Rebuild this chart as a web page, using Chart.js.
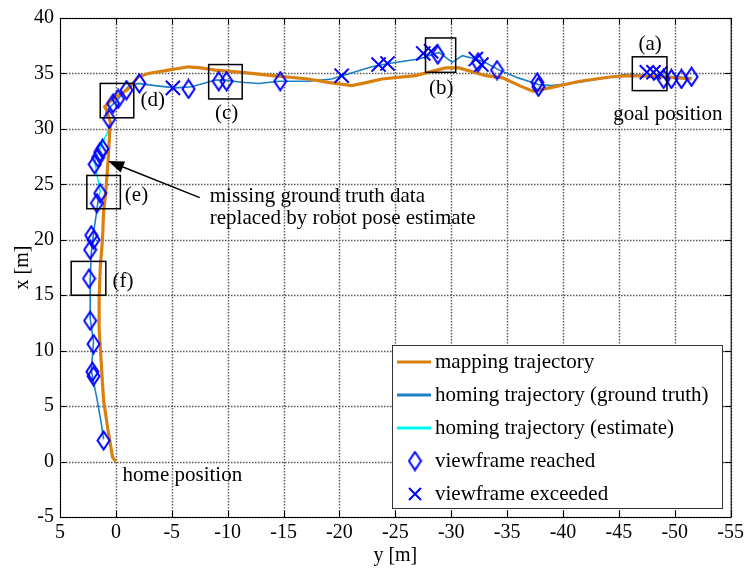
<!DOCTYPE html>
<html>
<head>
<meta charset="utf-8">
<script src="https://cdn.jsdelivr.net/npm/chart.js@4.4.0/dist/chart.umd.min.js"></script>
<style>
html,body{margin:0;padding:0;background:#fff;}
</style>
</head>
<body>
<canvas id="chart" width="748" height="575"></canvas>
<script>
// horizontal axis = y [m] (reversed), vertical axis = x [m]
const xTicks = [5, 0, -5, -10, -15, -20, -25, -30, -35, -40, -45, -50, -55];
const yTicks = [-5, 0, 5, 10, 15, 20, 25, 30, 35, 40];

// [y, x] pairs
const mappingPath = [
  [0,0],[0.3,0.4],[0.7,2.8],[1.1,5.5],[1.3,8.7],[1.5,12],[1.5,14.6],[1.4,17.5],[1.2,20],
  [1.1,22.5],[0.9,24.4],[0.7,27.1],[0.6,28.9],[0.5,30.6],[0.8,31.6],[1.0,32.0],[0.4,32.6],
  [-1.1,33.6],[-2.0,34.7],[-2.9,35.0],[-4.7,35.3],[-6.5,35.6],[-7.6,35.5],[-8.9,35.3],
  [-11.3,35.1],[-14,34.8],[-17.2,34.5],[-19,34.2],[-21.1,33.9],[-22.5,34.2],[-23.8,34.5],
  [-26.8,34.8],[-29.5,35.5],[-30.7,35.5],[-33.1,34.8],[-34.6,34.6],[-36.1,33.9],[-37.3,33.4],
  [-38.8,33.7],[-41.5,34.3],[-44.4,34.7],[-45.9,34.8],[-48.8,34.7],[-51.5,34.5]
];
const homingTruthA = [
  [-51.5,34.6],[-48,34.8],[-45.5,34.9],[-44.4,34.7],[-41.5,34.2],[-39,33.9],[-37.8,34.0],
  [-36,34.6],[-34.3,35.3],[-33,36.0],[-32.2,36.3],[-31.0,36.6],[-30.1,36.0],[-28.9,36.9],
  [-27.1,36.3],[-24.4,35.9],[-22.9,35.6],[-19.3,34.5],[-17.2,34.3],[-14.6,34.3],[-12.8,34.1],
  [-11.2,34.2],[-9.8,34.4],[-8.9,34.4],[-6.8,33.8],[-5.3,33.7],[-3.5,33.9],[-2.0,34.1],
  [-1.1,33.8],[-0.2,32.7],[0.7,31.8],[0.9,31.4],[0.5,30.7],[0.7,29.8]
];
const homingEstimate = [
  [0.7,29.8],[1.4,28.3],[1.9,27.1],[1.7,25.9],[1.4,24.4],[1.6,23.5]
];
const homingTruthB = [
  [1.6,23.5],[1.7,22.7],[2.0,20.6],[2.2,18.8],[2.3,16.4],[2.3,14.9],[2.3,12.9],[2.0,10.8],
  [2.2,8.2],[1.7,5.7],[1.3,3.4],[1.1,2.0]
];
const reachedPts = [
  [1.1,1.9],[2.1,8.1],[2.0,7.7],[2.0,10.6],[2.3,12.7],[2.4,16.5],[2.3,19.1],[2.0,20.0],[2.2,20.4],
  [1.4,24.2],[1.7,23.3],[1.9,26.8],[1.6,27.4],[1.4,27.9],[1.2,28.2],[0.6,30.9],
  [0.25,32.3],[-0.2,32.7],[-0.95,33.5],[-2.1,34.1],[-6.5,33.6],[-9.2,34.3],[-9.9,34.3],
  [-14.7,34.3],[-28.8,36.7],[-32.4,36.0],[-34.1,35.3],[-37.7,34.2],[-37.8,33.8],
  [-49.0,34.5],[-49.7,34.5],[-50.6,34.5],[-51.5,34.7]
];
const exceededPts = [
  [-5.1,33.7],[-20.2,34.8],[-23.5,35.8],[-24.3,35.9],[-27.5,36.8],[-28.2,37.0],
  [-32.2,36.3],[-32.7,35.8],[-47.5,35.1],[-48.1,35.1],[-48.7,35.0]
];
// annotation boxes: label, y1, y2, x1, x2
const boxes = [
  ['(a)', -46.2, -49.3, 36.5, 33.45],
  ['(b)', -27.7, -30.4, 38.2, 35.1],
  ['(c)', -8.3, -11.3, 35.8, 32.7],
  ['(d)', 1.4, -1.6, 34.1, 31.0],
  ['(e)', 2.6, -0.4, 25.8, 22.8],
  ['(f)', 4.0, 0.9, 18.05, 15.0]
];
const legendLabels = ['mapping trajectory', 'homing trajectory (ground truth)',
  'homing trajectory (estimate)', 'viewframe reached', 'viewframe exceeded'];

const ORANGE = '#d9800f';
const BLUE = '#1a80c8';
const CYAN = '#00f5f5';
const MARK = '#0000ff';
const FONT = '"Liberation Serif", "Times New Roman", serif';
const FS = 21;   // annotation / legend text
const TFS = 20;  // tick + axis titles

const toPts = (arr) => arr.map(p => ({x: p[0], y: p[1]}));

// tall diamond marker
function makeDiamond(){
  const c = document.createElement('canvas');
  c.width = 15; c.height = 21;
  const g = c.getContext('2d');
  g.strokeStyle = MARK; g.lineWidth = 2;
  g.beginPath();
  g.moveTo(7.5,1.5); g.lineTo(13.5,10.5); g.lineTo(7.5,19.5); g.lineTo(1.5,10.5); g.closePath();
  g.stroke();
  return c;
}
const diamond = makeDiamond();

function drawGrid(chart){
  const ctx = chart.ctx, a = chart.chartArea, xs = chart.scales.x, ys = chart.scales.y;
  ctx.save();
  ctx.strokeStyle = '#555'; ctx.lineWidth = 1.4;
  ctx.setLineDash([1.5, 1.5]);
  ctx.beginPath();
  xTicks.forEach(v => {
    const x = Math.round(xs.getPixelForValue(v)) + 0.5;
    ctx.moveTo(x, a.top); ctx.lineTo(x, a.bottom);
  });
  yTicks.forEach(v => {
    const y = Math.round(ys.getPixelForValue(v)) + 0.5;
    ctx.moveTo(a.left, y); ctx.lineTo(a.right, y);
  });
  ctx.stroke();
  ctx.restore();
}

const overlay = {
  id: 'overlay',
  beforeDatasetsDraw(chart){
    drawGrid(chart);
  },
  afterDatasetsDraw(chart){
    const ctx = chart.ctx, xs = chart.scales.x, ys = chart.scales.y;
    const px = v => xs.getPixelForValue(v), py = v => ys.getPixelForValue(v);
    ctx.save();
    ctx.strokeStyle = '#000'; ctx.lineWidth = 1.5;
    ctx.fillStyle = '#000';
    ctx.font = FS + 'px ' + FONT;
    ctx.textBaseline = 'middle';
    boxes.forEach(b => {
      const l = px(b[1]), r = px(b[2]), t = py(b[3]), bt = py(b[4]);
      ctx.strokeRect(l, t, r - l, bt - t);
    });
    const lab = (t, yv, xv, align) => { ctx.textAlign = align; ctx.fillText(t, px(yv), py(xv)); };
    lab('(a)', -47.8, 37.6, 'center');
    lab('(b)', -29.1, 33.6, 'center');
    lab('(c)', -9.9, 31.4, 'center');
    lab('(d)', -2.2, 32.6, 'left');
    lab('(e)', -0.8, 24.0, 'left');
    lab('(f)', 0.3, 16.2, 'left');
    lab('goal position', -44.5, 31.3, 'left');
    lab('home position', -0.6, -1.3, 'left');
    lab('missing ground truth data', -8.4, 23.9, 'left');
    lab('replaced by robot pose estimate', -8.4, 21.9, 'left');
    // arrow
    const x0 = px(-7.5), y0 = py(23.8), x1 = px(0.7), y1 = py(27.1);
    const ang = Math.atan2(y1 - y0, x1 - x0);
    ctx.lineWidth = 1.5;
    ctx.beginPath(); ctx.moveTo(x0, y0);
    ctx.lineTo(x1 - 12 * Math.cos(ang), y1 - 12 * Math.sin(ang)); ctx.stroke();
    ctx.beginPath();
    ctx.moveTo(x1, y1);
    ctx.lineTo(x1 - 16 * Math.cos(ang) + 6 * Math.sin(ang), y1 - 16 * Math.sin(ang) - 6 * Math.cos(ang));
    ctx.lineTo(x1 - 16 * Math.cos(ang) - 6 * Math.sin(ang), y1 - 16 * Math.sin(ang) + 6 * Math.cos(ang));
    ctx.closePath(); ctx.fill();
    ctx.restore();
  },
  afterDraw(chart){
    const ctx = chart.ctx, a = chart.chartArea, xs = chart.scales.x, ys = chart.scales.y;
    ctx.save();
    // frame + inward ticks
    ctx.strokeStyle = '#000'; ctx.lineWidth = 1;
    ctx.strokeRect(a.left + 0.5, a.top + 0.5, a.right - a.left, a.bottom - a.top);
    ctx.beginPath();
    xTicks.forEach(v => {
      const x = Math.round(xs.getPixelForValue(v)) + 0.5;
      ctx.moveTo(x, a.bottom); ctx.lineTo(x, a.bottom - 6);
      ctx.moveTo(x, a.top); ctx.lineTo(x, a.top + 6);
    });
    yTicks.forEach(v => {
      const y = Math.round(ys.getPixelForValue(v)) + 0.5;
      ctx.moveTo(a.left, y); ctx.lineTo(a.left + 6, y);
      ctx.moveTo(a.right, y); ctx.lineTo(a.right - 6, y);
    });
    ctx.stroke();
    // legend
    const L = 392.5, T = 345.5, W = 330, H = 163;
    ctx.fillStyle = '#fff';
    ctx.fillRect(L, T, W, H);
    ctx.strokeStyle = '#333'; ctx.lineWidth = 1;
    ctx.strokeRect(L, T, W, H);
    const rows = [362, 395, 428, 461, 494];
    const lineCols = [ORANGE, BLUE, CYAN];
    ctx.font = FS + 'px ' + FONT;
    ctx.textBaseline = 'middle'; ctx.textAlign = 'left';
    rows.forEach((ry, i) => {
      if (i < 3) {
        ctx.strokeStyle = lineCols[i]; ctx.lineWidth = 3;
        ctx.beginPath(); ctx.moveTo(397, ry); ctx.lineTo(431, ry); ctx.stroke();
      } else if (i === 3) {
        ctx.drawImage(diamond, 415 - 7.5, ry - 10.5);
      } else {
        ctx.strokeStyle = MARK; ctx.lineWidth = 2;
        ctx.beginPath();
        ctx.moveTo(409, ry - 6); ctx.lineTo(421, ry + 6);
        ctx.moveTo(421, ry - 6); ctx.lineTo(409, ry + 6);
        ctx.stroke();
      }
      ctx.fillStyle = '#000';
      ctx.fillText(legendLabels[i], 435, ry);
    });
    ctx.restore();
  }
};

const lineSet = (data, color, width) => ({
  data: toPts(data), showLine: true, borderColor: color, backgroundColor: color,
  borderWidth: width, pointRadius: 0, tension: 0
});

new Chart(document.getElementById('chart'), {
  type: 'scatter',
  data: {
    datasets: [
      { data: toPts(reachedPts), pointStyle: diamond, pointRadius: 8 },
      { data: toPts(exceededPts), pointStyle: 'crossRot', pointRadius: 10,
        borderColor: MARK, borderWidth: 2 },
      lineSet(mappingPath, ORANGE, 3.2),
      lineSet(homingTruthA, BLUE, 1.6),
      lineSet(homingTruthB, BLUE, 1.6),
      lineSet(homingEstimate, CYAN, 1.6)
    ]
  },
  options: {
    responsive: false,
    animation: false,
    events: [],
    layout: { padding: { top: 13, right: 16, left: 0, bottom: 0 } },
    plugins: { legend: { display: false }, tooltip: { enabled: false } },
    scales: {
      x: {
        type: 'linear', min: -55, max: 5, reverse: true,
        afterFit: s => { s.height = 58; },
        afterBuildTicks: s => { s.ticks = xTicks.map(v => ({value: v})); },
        grid: { display: false, drawTicks: false },
        border: { display: false },
        ticks: { color: '#000', padding: 4, font: { family: FONT, size: TFS }, maxRotation: 0,
                 autoSkip: false },
        title: { display: true, text: 'y [m]', color: '#000',
                 font: { family: FONT, size: TFS }, padding: { bottom: 7, top: 0 } }
      },
      y: {
        type: 'linear', min: -5, max: 40,
        afterFit: s => { s.width = 60; },
        afterBuildTicks: s => { s.ticks = yTicks.map(v => ({value: v})); },
        grid: { display: false, drawTicks: false },
        border: { display: false },
        ticks: { color: '#000', padding: 6, font: { family: FONT, size: TFS }, autoSkip: false },
        title: { display: true, text: 'x [m]', color: '#000',
                 font: { family: FONT, size: TFS }, padding: { top: 11, bottom: 0 } }
      }
    }
  },
  plugins: [overlay]
});
</script>
</body>
</html>
